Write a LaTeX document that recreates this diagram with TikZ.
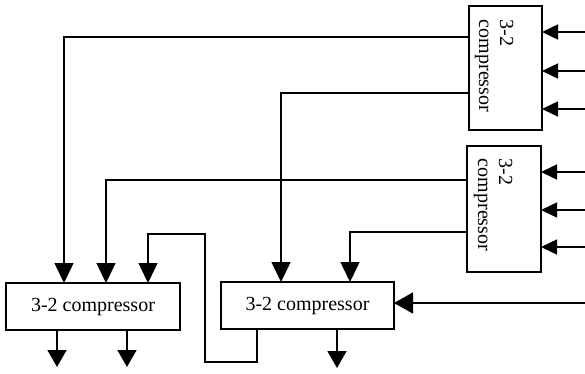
\documentclass[tikz,border=0pt]{standalone}
\usepackage{fontspec}
\setmainfont{Liberation Serif}
\usetikzlibrary{arrows.meta}
\begin{document}
\begin{tikzpicture}[x=1pt,y=-1pt,line width=1.5pt,
  cbox/.style={draw,line width=1.5pt,inner sep=0pt,outer sep=0pt},
  lbl/.style={font=\fontsize{20}{21}\selectfont,inner sep=0pt},
  vlbl/.style={font=\fontsize{20}{21}\selectfont,inner sep=0pt,rotate=-90,align=left},
  rin/.style={-{Triangle[length=16pt,width=15pt]}},
  din/.style={-{Triangle[length=20pt,width=19pt]}},
  dout/.style={-{Triangle[length=17pt,width=19pt]}},
  bigin/.style={-{Triangle[length=19pt,width=21pt]}}]
\useasboundingbox (0,0) rectangle (585,373);
% boxes
\node[cbox,minimum width=73pt,minimum height=124pt] (A) at (505.5,68) {};
\node[cbox,minimum width=74pt,minimum height=126pt] (B) at (504,209) {};
\node[cbox,minimum width=174pt,minimum height=47pt,lbl] (C) at (93,306.5) {3-2 compressor};
\node[cbox,minimum width=173pt,minimum height=47pt,lbl] (D) at (307.5,305.5) {3-2 compressor};
\node[vlbl] (At) at (494,66) {3-2\\compressor};
\node[vlbl] (Bt) at (493,205) {3-2\\compressor};
% free ends on the right
\coordinate (a1) at (585,32);
\coordinate (a2) at (585,71);
\coordinate (a3) at (585,109);
\coordinate (b1) at (585,172);
\coordinate (b2) at (585,210);
\coordinate (b3) at (585,247);
\coordinate (d0) at (585,303);
% inputs on the right
\draw[rin] (a1) -- (a1 -| A.east);
\draw[rin] (a2) -- (a2 -| A.east);
\draw[rin] (a3) -- (a3 -| A.east);
\draw[rin] (b1) -- (b1 -| B.east);
\draw[rin] (b2) -- (b2 -| B.east);
\draw[rin] (b3) -- (b3 -| B.east);
\draw[bigin] (d0) -- (d0 -| D.east);
% A outputs
\draw[din] (A.west |- 0,37) -| (C.north -| 64,0);
\draw[din] (A.west |- 0,93) -| (D.north -| 281,0);
% B outputs
\draw[din] (B.west |- 0,180) -| (C.north -| 106,0);
\draw[din] (B.west |- 0,232) -| (D.north -| 350,0);
% D output looping back to C
\draw[din] (D.south -| 257,0) -- (257,362) -- (205,362) -- (205,234) -| (C.north -| 148,0);
% outputs at the bottom
\coordinate (c1) at (57,367);
\coordinate (c2) at (127,367);
\coordinate (dd) at (337,368);
\draw[dout] (C.south -| c1) -- (c1);
\draw[dout] (C.south -| c2) -- (c2);
\draw[dout] (D.south -| dd) -- (dd);
\end{tikzpicture}
\end{document}
